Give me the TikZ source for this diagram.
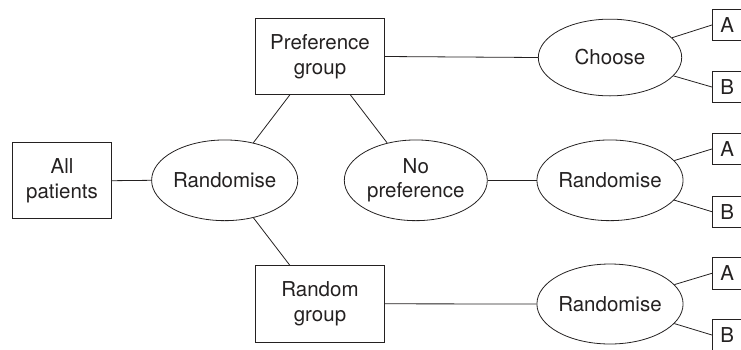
\documentclass[tikz,border=0pt]{standalone}
\usepackage{fontspec}
\setmainfont{TeX Gyre Heros}
\usetikzlibrary{shapes.geometric}
\definecolor{ink}{rgb}{0.14,0.13,0.13}
\begin{document}
\begin{tikzpicture}[x=1pt,y=-1pt,
  every node/.style={font=\fontsize{20.5}{24.5}\selectfont, text=ink, align=center, inner sep=0pt},
  boxnode/.style={draw=ink, line width=0.8pt, rectangle},
  ellnode/.style={draw=ink, line width=0.8pt, ellipse},
  smallbox/.style={draw=ink, line width=0.8pt, rectangle, minimum width=30pt, minimum height=31.5pt},
  link/.style={draw=ink, line width=0.8pt}]
\clip (0,0) rectangle (741,349);
\node[boxnode, minimum width=99pt, minimum height=76pt] (ap) at (62,180.7) {All\\patients};
\node[ellnode, minimum width=142.7pt, minimum height=80.7pt] (r1) at (224.7,180.3) {Randomise};
\node[boxnode, minimum width=128.6pt, minimum height=76pt] (pg) at (320,56.5) {Preference\\group};
\node[boxnode, minimum width=128.6pt, minimum height=76.3pt] (rg) at (320,303.8) {Random\\group};
\node[ellnode, minimum width=143pt, minimum height=80.7pt] (np) at (415.8,180.3) {No\\preference};
\node[ellnode, minimum width=143.4pt, minimum height=76.7pt] (ch) at (610,57.5) {Choose};
\node[ellnode, minimum width=143.4pt, minimum height=80.7pt] (r2) at (610,180.3) {Randomise};
\node[ellnode, minimum width=143.4pt, minimum height=80pt] (r3) at (610,304) {Randomise};
\node[smallbox] (a1) at (727.3,25) {A};
\node[smallbox] (b1) at (727.3,87) {B};
\node[smallbox] (a2) at (727.3,149) {A};
\node[smallbox] (b2) at (727.3,211.7) {B};
\node[smallbox] (a3) at (727.3,273.3) {A};
\node[smallbox] (b3) at (727.3,335) {B};
\draw[link] (ap.east) -- (r1.west);
\draw[link] (r1) -- ([xshift=34.5pt]pg.south west);
\draw[link] (r1) -- ([xshift=34.5pt]rg.north west);
\draw[link] ([xshift=-34.3pt]pg.south east) -- (np);
\draw[link] (pg.east) -- (ch.west);
\draw[link] (np.east) -- (r2.west);
\draw[link] (rg.east) -- (r3.west);
\draw[link] (ch) -- (a1.west);
\draw[link] (ch) -- (b1.west);
\draw[link] (r2) -- (a2.west);
\draw[link] (r2) -- (b2.west);
\draw[link] (r3) -- (a3.west);
\draw[link] (r3) -- (b3.west);
\end{tikzpicture}
\end{document}
